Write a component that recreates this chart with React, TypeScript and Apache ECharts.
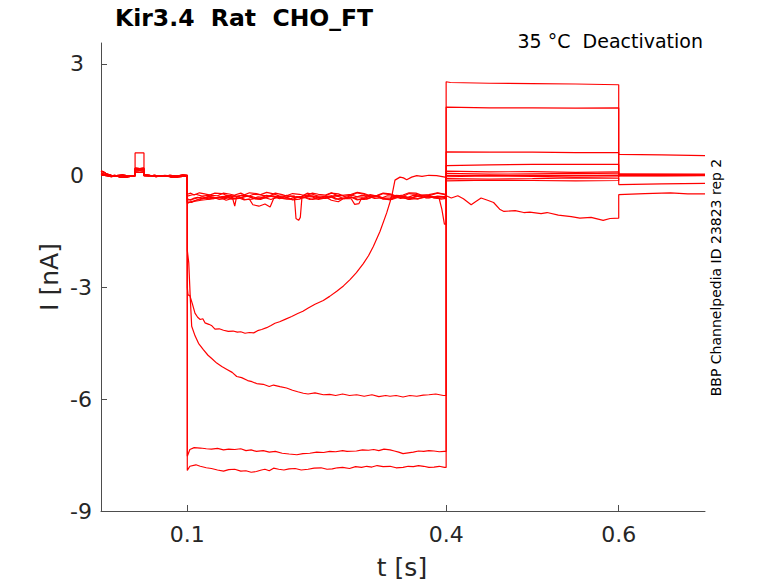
import React, { useEffect, useRef } from "react";
import * as echarts from "echarts";

type P = [number, number][];

const xTicks = [0.1, 0.4, 0.6];
const yTicks = [-9, -6, -3, 0, 3];

// holding segments (0 - 0.1 s)
const holdA: P = [[0, 0.12], [0.003, 0.1], [0.007, 0.04], [0.012, 0.01], [0.018, -0.02], [0.024, 0.0], [0.03, -0.03], [0.035, 0.0], [0.0395, -0.01], [0.0395, 0.16], [0.045, 0.15], [0.0498, 0.16], [0.0498, 0.0], [0.055, -0.01], [0.062, 0.01], [0.07, -0.02], [0.076, 0.0], [0.083, -0.04], [0.09, -0.02], [0.095, 0.0], [0.1, 0.0]];
const holdB: P = [[0, 0.05], [0.005, 0.02], [0.01, -0.01], [0.016, 0.01], [0.022, -0.04], [0.028, -0.05], [0.034, -0.02], [0.0395, 0.0], [0.0395, 0.1], [0.045, 0.09], [0.0498, 0.1], [0.0498, 0.02], [0.056, 0.0], [0.064, -0.03], [0.07, 0.0], [0.078, -0.02], [0.086, -0.05], [0.092, -0.03], [0.1, -0.01]];
const holdC: P = [[0, 0.02], [0.006, 0.0], [0.012, -0.03], [0.018, 0.0], [0.025, 0.02], [0.032, -0.01], [0.0395, 0.01], [0.0395, 0.2], [0.045, 0.19], [0.0498, 0.2], [0.0498, 0.03], [0.057, 0.01], [0.065, 0.0], [0.072, -0.02], [0.08, 0.01], [0.088, -0.01], [0.095, 0.02], [0.1, 0.01]];
const holdBig: P = [[0, 0.08], [0.005, 0.03], [0.01, 0.0], [0.017, -0.02], [0.024, 0.01], [0.031, -0.02], [0.0395, 0.0], [0.0395, 0.61], [0.045, 0.61], [0.0498, 0.61], [0.0498, 0.01], [0.058, 0.0], [0.066, -0.02], [0.074, 0.01], [0.082, -0.01], [0.09, 0.0], [0.1, 0.0]];

// conditioning step (0.1 - 0.4 s)
const stepD: P = [[0.1, 0], [0.1, -7.91], [0.103, -7.8], [0.11, -7.76], [0.115, -7.8], [0.122, -7.84], [0.128, -7.86], [0.135, -7.9], [0.142, -7.93], [0.148, -7.89], [0.155, -7.88], [0.162, -7.93], [0.168, -7.92], [0.174, -7.96], [0.18, -7.94], [0.186, -7.9], [0.19, -7.88], [0.195, -7.92], [0.2, -7.85], [0.206, -7.88], [0.212, -7.9], [0.218, -7.87], [0.225, -7.86], [0.232, -7.9], [0.24, -7.88], [0.247, -7.85], [0.255, -7.84], [0.262, -7.88], [0.268, -7.87], [0.274, -7.84], [0.28, -7.83], [0.288, -7.86], [0.295, -7.81], [0.302, -7.83], [0.308, -7.8], [0.314, -7.82], [0.32, -7.78], [0.327, -7.81], [0.335, -7.8], [0.342, -7.84], [0.35, -7.83], [0.356, -7.8], [0.362, -7.81], [0.368, -7.78], [0.374, -7.8], [0.38, -7.83], [0.386, -7.82], [0.392, -7.8], [0.398, -7.83], [0.4, -7.83]];
const stepC: P = [[0.1, 0], [0.1, -7.53], [0.103, -7.35], [0.108, -7.3], [0.115, -7.31], [0.122, -7.33], [0.128, -7.34], [0.135, -7.32], [0.142, -7.36], [0.148, -7.34], [0.155, -7.35], [0.162, -7.33], [0.168, -7.38], [0.174, -7.36], [0.18, -7.4], [0.188, -7.38], [0.195, -7.42], [0.202, -7.4], [0.21, -7.45], [0.218, -7.47], [0.227, -7.49], [0.234, -7.46], [0.242, -7.45], [0.25, -7.42], [0.258, -7.43], [0.265, -7.4], [0.272, -7.41], [0.28, -7.38], [0.285, -7.4], [0.296, -7.39], [0.303, -7.36], [0.31, -7.37], [0.316, -7.35], [0.322, -7.38], [0.328, -7.34], [0.335, -7.36], [0.34, -7.39], [0.345, -7.42], [0.35, -7.46], [0.356, -7.44], [0.362, -7.42], [0.368, -7.39], [0.374, -7.4], [0.38, -7.38], [0.386, -7.39], [0.392, -7.41], [0.398, -7.4], [0.4, -7.4]];
const stepB: P = [[0.1, 0], [0.1, -2.0], [0.1017, -2.34], [0.1035, -3.3], [0.1051, -4.04], [0.109, -4.3], [0.113, -4.5], [0.1186, -4.67], [0.124, -4.82], [0.128, -4.9], [0.1341, -5.03], [0.14, -5.12], [0.146, -5.2], [0.152, -5.28], [0.1573, -5.39], [0.163, -5.42], [0.17, -5.5], [0.175, -5.53], [0.1804, -5.58], [0.188, -5.6], [0.195, -5.66], [0.2, -5.62], [0.2074, -5.66], [0.215, -5.7], [0.222, -5.76], [0.228, -5.8], [0.2345, -5.84], [0.24, -5.86], [0.248, -5.83], [0.2577, -5.88], [0.265, -5.87], [0.272, -5.9], [0.28, -5.86], [0.288, -5.9], [0.2963, -5.88], [0.305, -5.92], [0.314, -5.88], [0.322, -5.93], [0.33, -5.9], [0.3349, -5.92], [0.342, -5.9], [0.35, -5.94], [0.358, -5.9], [0.366, -5.92], [0.3735, -5.89], [0.38, -5.88], [0.388, -5.86], [0.3967, -5.9], [0.4, -5.9]];
const stepA: P = [[0.1, 0], [0.1, -3.0], [0.1008, -3.2], [0.103, -3.22], [0.106, -3.45], [0.1089, -3.69], [0.112, -3.8], [0.115, -3.86], [0.118, -3.84], [0.1205, -3.95], [0.125, -3.99], [0.128, -4.02], [0.1321, -4.12], [0.137, -4.11], [0.142, -4.15], [0.1475, -4.18], [0.153, -4.17], [0.158, -4.2], [0.162, -4.19], [0.1669, -4.23], [0.172, -4.21], [0.177, -4.22], [0.1815, -4.16], [0.1862, -4.13], [0.192, -4.08], [0.197, -4.02], [0.2016, -3.96], [0.207, -3.92], [0.214, -3.85], [0.221, -3.78], [0.228, -3.7], [0.234, -3.64], [0.2402, -3.55], [0.248, -3.45], [0.2576, -3.35], [0.265, -3.24], [0.2732, -3.1], [0.281, -2.96], [0.2886, -2.79], [0.296, -2.6], [0.304, -2.36], [0.31, -2.15], [0.3156, -1.9], [0.3233, -1.5], [0.3311, -1.0], [0.3369, -0.56], [0.3407, -0.12], [0.3465, -0.04], [0.3505, -0.06], [0.3543, -0.11], [0.36, -0.04], [0.3659, 0.0], [0.372, -0.02], [0.38, 0.01], [0.389, 0.0], [0.3987, -0.04], [0.4, -0.03]];
const stepE: P = [[0.1, 0.0], [0.1, -0.62], [0.104, -0.66], [0.108, -0.6], [0.112, -0.58], [0.118, -0.62], [0.125, -0.55], [0.132, -0.59], [0.14, -0.6], [0.146, -0.53], [0.152, -0.56], [0.155, -0.82], [0.157, -0.58], [0.163, -0.52], [0.17, -0.54], [0.177, -0.61], [0.185, -0.6], [0.192, -0.53], [0.2, -0.57], [0.207, -0.62], [0.215, -0.53], [0.222, -0.57], [0.23, -0.59], [0.237, -0.52], [0.245, -0.55], [0.252, -0.6], [0.26, -0.61], [0.267, -0.54], [0.275, -0.56], [0.282, -0.62], [0.29, -0.52], [0.297, -0.57], [0.305, -0.58], [0.312, -0.51], [0.32, -0.55], [0.327, -0.6], [0.335, -0.6], [0.342, -0.53], [0.35, -0.54], [0.357, -0.61], [0.365, -0.57], [0.372, -0.52], [0.38, -0.53], [0.386, -0.6], [0.392, -0.58], [0.4, -0.55]];
const stepF: P = [[0.1, 0], [0.1, -0.7], [0.105, -0.72], [0.11, -0.66], [0.115, -0.64], [0.122, -0.59], [0.13, -0.62], [0.137, -0.57], [0.145, -0.66], [0.152, -0.61], [0.16, -0.6], [0.166, -0.65], [0.172, -0.63], [0.176, -0.78], [0.183, -0.82], [0.19, -0.76], [0.196, -0.84], [0.2, -0.62], [0.207, -0.56], [0.215, -0.58], [0.222, -0.65], [0.23, -0.63], [0.237, -0.56], [0.245, -0.57], [0.252, -0.64], [0.26, -0.6], [0.267, -0.55], [0.275, -0.64], [0.282, -0.6], [0.29, -0.58], [0.297, -0.65], [0.305, -0.61], [0.312, -0.55], [0.32, -0.56], [0.327, -0.63], [0.335, -0.62], [0.342, -0.56], [0.35, -0.59], [0.357, -0.64], [0.365, -0.55], [0.372, -0.58], [0.38, -0.6], [0.39, -0.55], [0.4, -0.57]];
const stepG: P = [[0.1, 0], [0.1, -0.5], [0.104, -0.47], [0.108, -0.52], [0.114, -0.46], [0.12, -0.49], [0.128, -0.53], [0.135, -0.54], [0.142, -0.47], [0.15, -0.5], [0.157, -0.55], [0.165, -0.53], [0.172, -0.46], [0.18, -0.48], [0.187, -0.53], [0.195, -0.55], [0.202, -0.47], [0.21, -0.51], [0.217, -0.56], [0.224, -0.54], [0.226, -1.15], [0.229, -1.2], [0.231, -1.12], [0.233, -0.55], [0.239, -0.47], [0.245, -0.5], [0.252, -0.55], [0.26, -0.54], [0.267, -0.47], [0.275, -0.49], [0.282, -0.55], [0.29, -0.53], [0.297, -0.46], [0.305, -0.5], [0.312, -0.56], [0.32, -0.55], [0.327, -0.48], [0.335, -0.51], [0.342, -0.55], [0.35, -0.56], [0.357, -0.48], [0.365, -0.5], [0.372, -0.55], [0.38, -0.54], [0.39, -0.47], [0.4, -0.52]];
const stepH: P = [[0.1, 0], [0.1, -0.75], [0.104, -0.7], [0.11, -0.66], [0.115, -0.62], [0.122, -0.6], [0.13, -0.58], [0.137, -0.64], [0.145, -0.61], [0.152, -0.56], [0.16, -0.57], [0.167, -0.64], [0.175, -0.63], [0.182, -0.57], [0.19, -0.59], [0.197, -0.64], [0.205, -0.56], [0.212, -0.6], [0.22, -0.62], [0.227, -0.56], [0.235, -0.58], [0.242, -0.64], [0.25, -0.6], [0.257, -0.56], [0.265, -0.55], [0.272, -0.63], [0.28, -0.61], [0.29, -0.62], [0.294, -0.77], [0.299, -0.75], [0.302, -0.6], [0.308, -0.63], [0.315, -0.57], [0.322, -0.56], [0.33, -0.62], [0.337, -0.64], [0.345, -0.58], [0.352, -0.56], [0.36, -0.6], [0.367, -0.63], [0.375, -0.56], [0.382, -0.58], [0.39, -0.61], [0.4, -0.58]];
const stepI: P = [[0.1, 0], [0.1, -0.55], [0.105, -0.52], [0.11, -0.5], [0.117, -0.55], [0.125, -0.53], [0.132, -0.47], [0.14, -0.48], [0.147, -0.54], [0.155, -0.52], [0.162, -0.47], [0.17, -0.56], [0.177, -0.5], [0.185, -0.51], [0.192, -0.45], [0.2, -0.49], [0.207, -0.55], [0.215, -0.54], [0.222, -0.48], [0.23, -0.5], [0.237, -0.54], [0.245, -0.47], [0.252, -0.5], [0.26, -0.52], [0.267, -0.46], [0.275, -0.55], [0.282, -0.52], [0.29, -0.5], [0.297, -0.45], [0.305, -0.48], [0.312, -0.54], [0.32, -0.53], [0.327, -0.47], [0.335, -0.49], [0.342, -0.55], [0.35, -0.52], [0.357, -0.46], [0.365, -0.47], [0.372, -0.53], [0.38, -0.51], [0.39, -0.46], [0.4, -0.5]];
const stepJ: P = [[0.1, 0], [0.1, -0.66], [0.106, -0.63], [0.112, -0.6], [0.118, -0.57], [0.125, -0.63], [0.132, -0.6], [0.14, -0.56], [0.147, -0.55], [0.155, -0.62], [0.162, -0.59], [0.17, -0.55], [0.177, -0.62], [0.185, -0.64], [0.192, -0.57], [0.2, -0.55], [0.207, -0.6], [0.215, -0.63], [0.222, -0.64], [0.23, -0.56], [0.237, -0.58], [0.245, -0.64], [0.252, -0.62], [0.26, -0.57], [0.267, -0.66], [0.275, -0.7], [0.282, -0.6], [0.29, -0.57], [0.297, -0.63], [0.305, -0.64], [0.312, -0.59], [0.32, -0.56], [0.327, -0.62], [0.335, -0.65], [0.342, -0.57], [0.35, -0.58], [0.357, -0.64], [0.365, -0.62], [0.372, -0.6], [0.38, -0.55], [0.387, -0.57], [0.394, -0.63], [0.4, -0.61]];
const stepK: P = [[0.1, 0], [0.1, -0.72], [0.106, -0.7], [0.111, -0.68], [0.116, -0.66], [0.123, -0.64], [0.13, -0.62], [0.137, -0.6], [0.145, -0.58], [0.152, -0.63], [0.16, -0.61], [0.167, -0.55], [0.175, -0.56], [0.182, -0.62], [0.19, -0.6], [0.197, -0.54], [0.205, -0.57], [0.212, -0.61], [0.22, -0.55], [0.227, -0.58], [0.235, -0.6], [0.242, -0.54], [0.25, -0.56], [0.257, -0.61], [0.265, -0.59], [0.272, -0.53], [0.28, -0.54], [0.287, -0.6], [0.295, -0.58], [0.302, -0.53], [0.31, -0.55], [0.317, -0.61], [0.325, -0.6], [0.332, -0.54], [0.34, -0.56], [0.347, -0.61], [0.355, -0.59], [0.362, -0.53], [0.37, -0.55], [0.377, -0.6], [0.385, -0.58], [0.392, -0.62], [0.395, -0.9], [0.398, -1.3], [0.4, -1.3]];

// test step (0.4 - 0.6 s)
const testD: P = [[0.4, 2.52], [0.405, 2.5], [0.45, 2.48], [0.5, 2.47], [0.55, 2.46], [0.6, 2.44]];
const testC: P = [[0.4, 1.84], [0.45, 1.82], [0.5, 1.82], [0.55, 1.81], [0.6, 1.82]];
const testB: P = [[0.4, 0.64], [0.45, 0.63], [0.5, 0.63], [0.55, 0.62], [0.6, 0.62]];
const testA: P = [[0.4, 0.0], [0.5, 0.01], [0.6, 0.0]];
const testE: P = [[0.4, 0.27], [0.45, 0.29], [0.5, 0.3], [0.55, 0.3], [0.6, 0.3]];
const testF: P = [[0.4, 0.12], [0.45, 0.1], [0.5, 0.11], [0.55, 0.09], [0.6, 0.1]];
const testG: P = [[0.4, 0.06], [0.45, 0.04], [0.5, 0.05], [0.55, 0.06], [0.6, 0.05]];
const testH: P = [[0.4, -0.03], [0.45, -0.01], [0.5, -0.02], [0.55, -0.04], [0.6, -0.03]];
const testI: P = [[0.4, -0.08], [0.45, -0.09], [0.5, -0.08], [0.55, -0.06], [0.6, -0.07]];
const testJ: P = [[0.4, -0.14], [0.45, -0.12], [0.5, -0.13], [0.55, -0.14], [0.6, -0.13]];
const testK: P = [[0.4, -0.54], [0.406, -0.6], [0.4135, -0.54], [0.42, -0.62], [0.429, -0.78], [0.434, -0.7], [0.4405, -0.6], [0.448, -0.66], [0.455, -0.72], [0.462, -0.9], [0.467, -0.96], [0.48, -0.94], [0.49, -0.99], [0.497, -0.98], [0.51, -1.02], [0.517, -0.99], [0.53, -1.06], [0.545, -1.1], [0.555, -1.14], [0.568, -1.12], [0.582, -1.2], [0.59, -1.15], [0.6, -1.14]];

// after test step (0.6 - 0.7 s)
const afterD: P = [[0.6, 0.03], [0.65, 0.02], [0.7, 0.03]];
const afterC: P = [[0.6, 0.01], [0.65, 0.0], [0.7, 0.01]];
const afterB: P = [[0.6, 0.57], [0.65, 0.56], [0.7, 0.54]];
const afterA: P = [[0.6, 0.04], [0.7, 0.03]];
const afterE: P = [[0.6, 0.02], [0.65, 0.03], [0.7, 0.02]];
const afterF: P = [[0.6, 0.0], [0.7, 0.01]];
const afterG: P = [[0.6, -0.01], [0.7, 0.0]];
const afterH: P = [[0.6, 0.04], [0.7, 0.04]];
const afterI: P = [[0.6, -0.24], [0.65, -0.22], [0.7, -0.21]];
const afterJ: P = [[0.6, 0.01], [0.7, 0.02]];
const afterK: P = [[0.6, -0.51], [0.63, -0.48], [0.66, -0.46], [0.68, -0.49], [0.7, -0.49]];

const sweeps: P[] = [
  [...holdA, ...stepD, ...testD, ...afterD],
  [...holdB, ...stepC, ...testC, ...afterC],
  [...holdC, ...stepB, ...testB, ...afterB],
  [...holdA, ...stepA, ...testA, ...afterA],
  [...holdBig, ...stepE, ...testE, ...afterE],
  [...holdB, ...stepF, ...testF, ...afterF],
  [...holdC, ...stepG, ...testG, ...afterG],
  [...holdA, ...stepH, ...testH, ...afterH],
  [...holdB, ...stepI, ...testI, ...afterI],
  [...holdC, ...stepJ, ...testJ, ...afterJ],
  [...holdA, ...stepK, ...testK, ...afterK],
];

const FONT = '"DejaVu Sans", "Liberation Sans", sans-serif';
const AXIS = "#4d4d4d";
const TXT = "#262626";

function txt(x: number, y: number, text: string, size: number, align: string, opts: any = {}) {
  return {
    type: "text",
    x,
    y,
    rotation: opts.rotation || 0,
    silent: true,
    style: {
      text,
      fill: opts.fill || "#000",
      fontSize: size,
      fontFamily: FONT,
      fontWeight: opts.bold ? "bold" : "normal",
      align,
      verticalAlign: "middle",
      textAlign: align,
      textVerticalAlign: "middle",
    },
  };
}

export default function App() {
  const ref = useRef<HTMLDivElement>(null);
  useEffect(() => {
    document.body.style.margin = "0";
    const chart = echarts.init(ref.current!, null, { renderer: "svg" });
    chart.setOption({
      animation: false,
      grid: { left: 101, right: 73, top: 43, bottom: 72 },
      xAxis: {
        type: "value",
        min: 0,
        max: 0.7,
        axisLine: { show: true, onZero: false, lineStyle: { color: AXIS, width: 1 } },
        axisTick: { show: true, inside: true, length: 6, customValues: xTicks, lineStyle: { color: AXIS } },
        axisLabel: { customValues: xTicks, fontSize: 22, color: TXT, fontFamily: FONT, margin: 12 },
        splitLine: { show: false },
      },
      yAxis: {
        type: "value",
        min: -9,
        max: 3.56,
        axisLine: { show: true, onZero: false, lineStyle: { color: AXIS, width: 1 } },
        axisTick: { show: true, inside: true, length: 6, customValues: yTicks, lineStyle: { color: AXIS } },
        axisLabel: { customValues: yTicks, fontSize: 22, color: TXT, fontFamily: FONT, margin: 31, align: "left" },
        splitLine: { show: false },
      },
      graphic: [
        txt(115, 18, "Kir3.4  Rat  CHO_FT", 23.5, "left", { bold: true }),
        txt(703, 41, "35 °C  Deactivation", 19, "right"),
        txt(716, 277.5, "BBP Channelpedia ID 23823 rep 2", 14, "center", { rotation: Math.PI / 2 }),
        txt(402, 567, "t [s]", 25, "center", { fill: TXT }),
        txt(49, 277, "I [nA]", 25, "center", { fill: TXT, rotation: Math.PI / 2 }),
      ],
      series: sweeps.map((d) => ({
        type: "line",
        data: d,
        showSymbol: false,
        silent: true,
        lineStyle: { color: "#ff0000", width: 1.2 },
        clip: true,
      })),
    });
    return () => chart.dispose();
  }, []);
  return <div ref={ref} style={{ width: 778, height: 583 }} />;
}
